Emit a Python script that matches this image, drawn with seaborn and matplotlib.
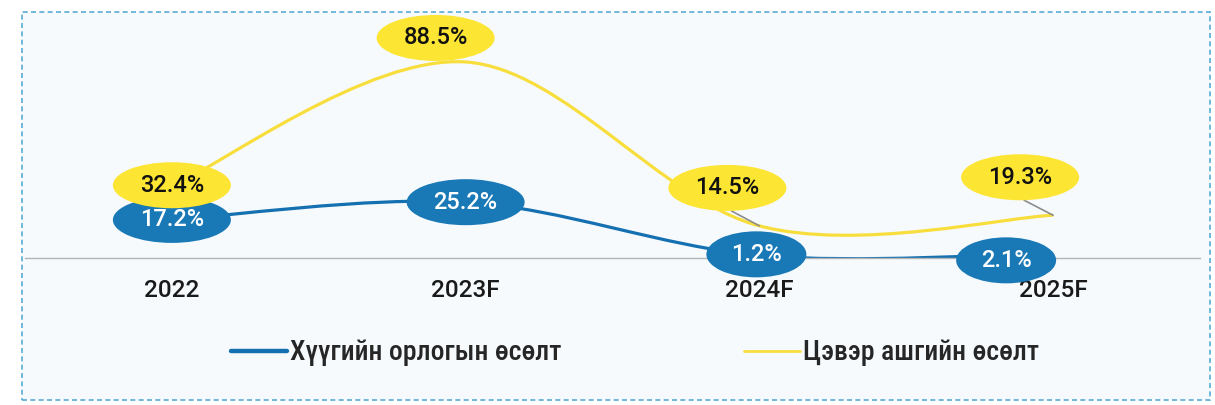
import matplotlib
matplotlib.use("Agg")
import numpy as np
import pandas as pd
import matplotlib.pyplot as plt
import seaborn as sns
from matplotlib.path import Path
from matplotlib.patches import PathPatch, Ellipse, Rectangle
from matplotlib.lines import Line2D
from matplotlib import transforms as mtrans
from matplotlib import font_manager as fm

# ---- data -------------------------------------------------------------
years = ["2022", "2023F", "2024F", "2025F"]
interest_income_growth = [17.2, 25.2, 1.2, 2.1]
net_profit_growth = [32.4, 88.5, 14.5, 19.3]
series_names = ["Хүүгийн орлогын өсөлт", "Цэвэр ашгийн өсөлт"]

# label offsets from each point, in pixels (x right, y up)
income_label_offsets = [(0, 0), (0, 0), (-3, 1), (-47, -7)]
profit_label_offsets = [(0, 1), (-30, 24), (-32, 38), (-33, 38)]

BLUE_LINE = "#1470b0"
BLUE_FILL = "#1978b6"
YELLOW_LINE = "#f8de3c"
YELLOW_FILL = "#fde533"
BORDER = "#59abd6"
PANEL = "#f6fafd"

# ---- fonts ------------------------------------------------------------
sns.set_theme(style="white")
available = {f.name for f in fm.fontManager.ttflist}


def pick(*names):
    for n in names:
        if n in available:
            return n
    return "DejaVu Sans"


num_font = pick("Roboto", "Liberation Sans", "DejaVu Sans")
legend_font = pick("Liberation Sans Narrow", "Roboto Condensed", "Roboto", "Liberation Sans")
plt.rcParams["font.family"] = [num_font, "DejaVu Sans"]

W, H = 1215, 405
fig = plt.figure(figsize=(W / 100, H / 100), dpi=100)
fig.patch.set_facecolor("white")

# dashed panel frame
fig.patches.append(Rectangle((22 / W, 5 / H), 1188 / W, 388 / H,
                             transform=fig.transFigure, facecolor=PANEL,
                             edgecolor=BORDER, linewidth=1.2,
                             linestyle=(0, (3, 2)), zorder=-5))

ax = fig.add_axes([25 / W, 147 / H, 1175 / W, 243 / H])
ax.set_zorder(1)
ax.set_facecolor("none")

df = pd.DataFrame({
    "year": years * 2,
    "growth": interest_income_growth + net_profit_growth,
    "series": [series_names[0]] * len(years) + [series_names[1]] * len(years),
})
sns.lineplot(data=df, x="year", y="growth", hue="series",
             palette=[BLUE_LINE, YELLOW_LINE], sort=False,
             legend=False, ax=ax)

ax.set_xlim(-0.5, len(years) - 0.5)
ax.set_ylim(0, 109.7)


def smooth_path(xy):
    """Cubic Bezier path through the points (Catmull-Rom style smoothing)."""
    pts = np.asarray(xy, dtype=float)
    n = len(pts)
    verts = [pts[0]]
    codes = [Path.MOVETO]
    for i in range(n - 1):
        p0 = pts[i - 1] if i > 0 else pts[i]
        p1, p2 = pts[i], pts[i + 1]
        p3 = pts[i + 2] if i + 2 < n else pts[i + 1]
        c1 = p1 + (p2 - p0) / 6.0
        c2 = p2 - (p3 - p1) / 6.0
        verts += [c1, c2, p2]
        codes += [Path.CURVE4] * 3
    return Path(verts, codes)


# replace straight segments with smoothed curves
for line, lw in zip(list(ax.lines), [2.3, 2.3]):
    patch = PathPatch(smooth_path(line.get_xydata()), facecolor="none",
                      edgecolor=line.get_color(), linewidth=lw,
                      capstyle="butt", zorder=2)
    ax.add_patch(patch)
    line.set_visible(False)


def badge(x, y, text, off, face, tcolor, z, leader=False):
    dx, dy = off
    base = fig.dpi_scale_trans + mtrans.ScaledTranslation(x, y, ax.transData)
    w = 118 if len(text) >= 5 else 100
    ax.add_patch(Ellipse((dx / 100, dy / 100), w / 100, 46 / 100,
                         transform=base, facecolor=face, edgecolor="none",
                         zorder=z, clip_on=False))
    if leader:
        ax.add_line(Line2D([0, (dx + 4) / 100], [0, (dy - 23) / 100],
                           transform=base, color="#8c8c8c", linewidth=1.2,
                           zorder=z - 0.5, clip_on=False))
    ax.annotate(text, (x, y), xytext=(dx, dy), textcoords="offset pixels",
                ha="center", va="center", fontsize=17, fontweight="medium",
                color=tcolor, zorder=z + 0.1, annotation_clip=False)


for i, v in enumerate(interest_income_growth):
    badge(i, v, f"{v:.1f}%", income_label_offsets[i], BLUE_FILL, "white", 5)
for i, v in enumerate(net_profit_growth):
    off = profit_label_offsets[i]
    badge(i, v, f"{v:.1f}%", off, YELLOW_FILL, "#111111", 7,
          leader=abs(off[1]) > 30)

# axes styling
for side in ["top", "left", "right"]:
    ax.spines[side].set_visible(False)
ax.spines["bottom"].set_color("#b4b4b4")
ax.spines["bottom"].set_linewidth(1.0)
ax.set_yticks([])
ax.set_xlabel("")
ax.set_ylabel("")
ax.tick_params(axis="x", length=0, pad=15, labelsize=17.5, labelcolor="#1a1a1a")
for t in ax.get_xticklabels():
    t.set_fontweight("medium")

# legend
handles = [Line2D([], [], color=BLUE_LINE, linewidth=3.2),
           Line2D([], [], color=YELLOW_LINE, linewidth=2.0)]
fig.legend(handles, series_names, loc="center", bbox_to_anchor=(635 / W, 52 / H),
           ncol=2, frameon=False, handlelength=2.0, handletextpad=0.1,
           columnspacing=6.6, prop={"family": [legend_font, "DejaVu Sans"],
                                    "size": 20, "weight": "medium"})

fig.savefig("out.png", dpi=100, facecolor="white")
